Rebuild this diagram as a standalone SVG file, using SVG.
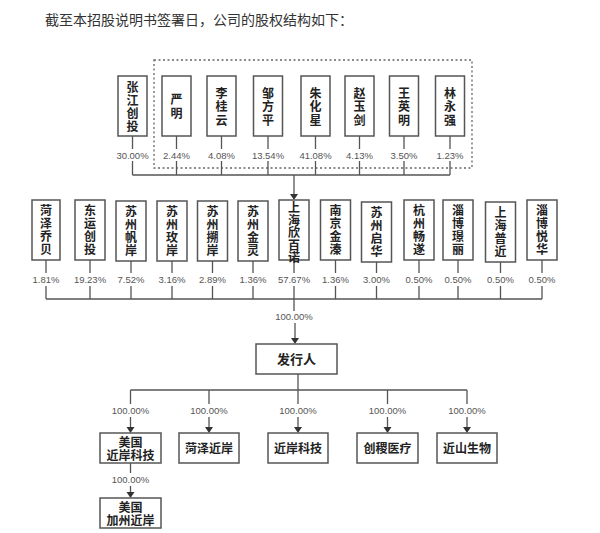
<svg xmlns="http://www.w3.org/2000/svg" width="600" height="533" viewBox="0 0 600 533">
<defs>
<style>
.bg{fill:#fff}
.box{fill:#fff;stroke:#555;stroke-width:1.5}
.t{font-family:"Noto Sans CJK SC","Liberation Sans",sans-serif;font-weight:bold;font-size:12px;fill:#222;text-anchor:middle}
.p{font-family:"Liberation Sans",Arial,sans-serif;font-size:9.5px;fill:#555;text-anchor:middle}
.title{font-family:"Noto Sans CJK SC","Liberation Serif",serif;font-size:14px;fill:#333}
.ln{fill:none;stroke:#555;stroke-width:1.3}
.ah{fill:#333}
.dash{fill:none;stroke:#666;stroke-width:1.3;stroke-dasharray:2 2.5}
</style>
</defs>
<rect class="bg" width="600" height="533"/>
<text class="title" x="45" y="25">截至本招股说明书签署日，公司的股权结构如下：</text>
<rect class="dash" x="154" y="60" width="318" height="108"/>

<g id="connectors">
<path class="ln" d="M132.5,136V149M132.5,161V175M176.5,136V149M176.5,161V175M221.5,136V149M221.5,161V175M268,136V149M268,161V175M315.5,136V149M315.5,161V175M359.5,136V149M359.5,161V175M404,136V149M404,161V175M450,136V149M450,161V175M132.5,175H450"/>
<path class="ln" d="M294,175V194"/>
<path class="ah" d="M290,194H298L294,200Z"/>
<path class="ln" d="M46,260V273M46,286V299M90,260V273M90,286V299M131,261V273M131,286V299M172,261V273M172,286V299M212.5,261V273M212.5,286V299M253,261V273M253,286V299M294,260V273M294,286V299M335.5,260V273M335.5,286V299M376.5,262V273M376.5,286V299M419,260V273M419,286V299M458,260V273M458,286V299M500.5,262V273M500.5,286V299M542,260V273M542,286V299M46,299H542"/>
<path class="ln" d="M294,299V311M295,323V338"/>
<path class="ah" d="M291,338H299L295,344Z"/>
<path class="ln" d="M298,374V390M130.5,390H467M130.5,390V404M209,390V404M298,390V404M387.5,390V404M467,390V404M130.5,417V427M209,417V427M298,417V427M387.5,417V427M467,417V427"/>
<path class="ah" d="M126.5,427H134.5L130.5,433Z M205,427H213L209,433Z M294,427H302L298,433Z M383.5,427H391.5L387.5,433Z M463,427H471L467,433Z"/>
<path class="ln" d="M130.5,463V473M130.5,486V492"/>
<path class="ah" d="M126.5,492H134.5L130.5,498Z"/>
</g>

<g id="labels">
<text class="p" x="132.5" y="158.5">30.00%</text>
<text class="p" x="176.5" y="158.5">2.44%</text>
<text class="p" x="221.5" y="158.5">4.08%</text>
<text class="p" x="268" y="158.5">13.54%</text>
<text class="p" x="315.5" y="158.5">41.08%</text>
<text class="p" x="359.5" y="158.5">4.13%</text>
<text class="p" x="404" y="158.5">3.50%</text>
<text class="p" x="450" y="158.5">1.23%</text>
<text class="p" x="46" y="283">1.81%</text>
<text class="p" x="90" y="283">19.23%</text>
<text class="p" x="131" y="283">7.52%</text>
<text class="p" x="172" y="283">3.16%</text>
<text class="p" x="212.5" y="283">2.89%</text>
<text class="p" x="253" y="283">1.36%</text>
<text class="p" x="294" y="283">57.67%</text>
<text class="p" x="335.5" y="283">1.36%</text>
<text class="p" x="376.5" y="283">3.00%</text>
<text class="p" x="419" y="283">0.50%</text>
<text class="p" x="458" y="283">0.50%</text>
<text class="p" x="500.5" y="283">0.50%</text>
<text class="p" x="542" y="283">0.50%</text>
<text class="p" x="294" y="320">100.00%</text>
<text class="p" x="130.5" y="413.5">100.00%</text>
<text class="p" x="209" y="413.5">100.00%</text>
<text class="p" x="298" y="413.5">100.00%</text>
<text class="p" x="387.5" y="413.5">100.00%</text>
<text class="p" x="467" y="413.5">100.00%</text>
<text class="p" x="130.5" y="482.5">100.00%</text>
</g>

<g id="n_zjct"><rect class="box" x="118" y="76" width="29" height="60"/><text class="t" x="132.5" y="91.5">张</text><text class="t" x="132.5" y="104.5">江</text><text class="t" x="132.5" y="117.5">创</text><text class="t" x="132.5" y="130.5">投</text></g>
<g id="n_ym"><rect class="box" x="162" y="76" width="29" height="60"/><text class="t" x="176.5" y="104">严</text><text class="t" x="176.5" y="117.5">明</text></g>
<g id="n_lgy"><rect class="box" x="207" y="76" width="29" height="60"/><text class="t" x="221.5" y="97.5">李</text><text class="t" x="221.5" y="111">桂</text><text class="t" x="221.5" y="124.5">云</text></g>
<g id="n_zfp"><rect class="box" x="253.5" y="76" width="29" height="60"/><text class="t" x="268" y="97.5">邹</text><text class="t" x="268" y="111">方</text><text class="t" x="268" y="124.5">平</text></g>
<g id="n_zhx"><rect class="box" x="301" y="76" width="29" height="60"/><text class="t" x="315.5" y="97.5">朱</text><text class="t" x="315.5" y="111">化</text><text class="t" x="315.5" y="124.5">星</text></g>
<g id="n_zyj"><rect class="box" x="345" y="76" width="29" height="60"/><text class="t" x="359.5" y="97.5">赵</text><text class="t" x="359.5" y="111">玉</text><text class="t" x="359.5" y="124.5">剑</text></g>
<g id="n_wym"><rect class="box" x="389.5" y="76" width="29" height="60"/><text class="t" x="404" y="97.5">王</text><text class="t" x="404" y="111">英</text><text class="t" x="404" y="124.5">明</text></g>
<g id="n_lyq"><rect class="box" x="435.5" y="76" width="29" height="60"/><text class="t" x="450" y="97.5">林</text><text class="t" x="450" y="111">永</text><text class="t" x="450" y="124.5">强</text></g>

<g id="n_hzqb"><rect class="box" x="32" y="200" width="28" height="60"/><text class="t" x="46" y="215">菏</text><text class="t" x="46" y="228">泽</text><text class="t" x="46" y="241">乔</text><text class="t" x="46" y="254">贝</text></g>
<g id="n_dyct"><rect class="box" x="75" y="200" width="30" height="60"/><text class="t" x="90" y="215">东</text><text class="t" x="90" y="228">运</text><text class="t" x="90" y="241">创</text><text class="t" x="90" y="254">投</text></g>
<g id="n_szfa"><rect class="box" x="116" y="201" width="30" height="60"/><text class="t" x="131" y="216">苏</text><text class="t" x="131" y="229">州</text><text class="t" x="131" y="242">帆</text><text class="t" x="131" y="255">岸</text></g>
<g id="n_szma"><rect class="box" x="157" y="201" width="30" height="60"/><text class="t" x="172" y="216">苏</text><text class="t" x="172" y="229">州</text><text class="t" x="172" y="242">玫</text><text class="t" x="172" y="255">岸</text></g>
<g id="n_szsa"><rect class="box" x="197.5" y="201" width="30" height="60"/><text class="t" x="212.5" y="216">苏</text><text class="t" x="212.5" y="229">州</text><text class="t" x="212.5" y="242">搠</text><text class="t" x="212.5" y="255">岸</text></g>
<g id="n_szjl"><rect class="box" x="238" y="201" width="30" height="60"/><text class="t" x="253" y="216">苏</text><text class="t" x="253" y="229">州</text><text class="t" x="253" y="242">金</text><text class="t" x="253" y="255">灵</text></g>
<g id="n_shxbn"><rect class="box" x="279" y="200" width="30" height="60"/><text class="t" x="294" y="212">上</text><text class="t" x="294" y="224.5">海</text><text class="t" x="294" y="237">欣</text><text class="t" x="294" y="249.5">百</text><text class="t" x="294" y="262">诺</text></g>
<g id="n_njjq"><rect class="box" x="320.5" y="200" width="30" height="60"/><text class="t" x="335.5" y="215">南</text><text class="t" x="335.5" y="228">京</text><text class="t" x="335.5" y="241">金</text><text class="t" x="335.5" y="254">溱</text></g>
<g id="n_szqh"><rect class="box" x="361.5" y="202" width="30" height="60"/><text class="t" x="376.5" y="217">苏</text><text class="t" x="376.5" y="230">州</text><text class="t" x="376.5" y="243">启</text><text class="t" x="376.5" y="256">华</text></g>
<g id="n_hzcs"><rect class="box" x="404" y="200" width="30" height="60"/><text class="t" x="419" y="215">杭</text><text class="t" x="419" y="228">州</text><text class="t" x="419" y="241">畅</text><text class="t" x="419" y="254">遂</text></g>
<g id="n_zbjl"><rect class="box" x="443" y="200" width="30" height="60"/><text class="t" x="458" y="215">淄</text><text class="t" x="458" y="228">博</text><text class="t" x="458" y="241">璟</text><text class="t" x="458" y="254">丽</text></g>
<g id="n_shpj"><rect class="box" x="485.5" y="202" width="30" height="60"/><text class="t" x="500.5" y="217">上</text><text class="t" x="500.5" y="230">海</text><text class="t" x="500.5" y="243">普</text><text class="t" x="500.5" y="256">近</text></g>
<g id="n_zbyh"><rect class="box" x="527" y="200" width="30" height="60"/><text class="t" x="542" y="215">淄</text><text class="t" x="542" y="228">博</text><text class="t" x="542" y="241">悦</text><text class="t" x="542" y="254">华</text></g>

<g id="n_issuer"><rect class="box" x="256" y="344" width="81" height="30"/><text class="t" x="296.5" y="363.5" style="font-size:13px">发行人</text></g>

<g id="n_usja"><rect class="box" x="100" y="433" width="61" height="30"/><text class="t" x="130.5" y="446.5">美国</text><text class="t" x="130.5" y="459.5">近岸科技</text></g>
<g id="n_hzja"><rect class="box" x="179" y="433" width="60" height="30"/><text class="t" x="209" y="452.5">菏泽近岸</text></g>
<g id="n_jakj"><rect class="box" x="268" y="433" width="60" height="30"/><text class="t" x="298" y="452.5">近岸科技</text></g>
<g id="n_cjyl"><rect class="box" x="357" y="433" width="61" height="30"/><text class="t" x="387.5" y="452.5">创稷医疗</text></g>
<g id="n_jssw"><rect class="box" x="437" y="433" width="60" height="30"/><text class="t" x="467" y="452.5">近山生物</text></g>
<g id="n_usca"><rect class="box" x="100" y="498" width="61" height="30"/><text class="t" x="130.5" y="511.5">美国</text><text class="t" x="130.5" y="524.5">加州近岸</text></g>
</svg>
